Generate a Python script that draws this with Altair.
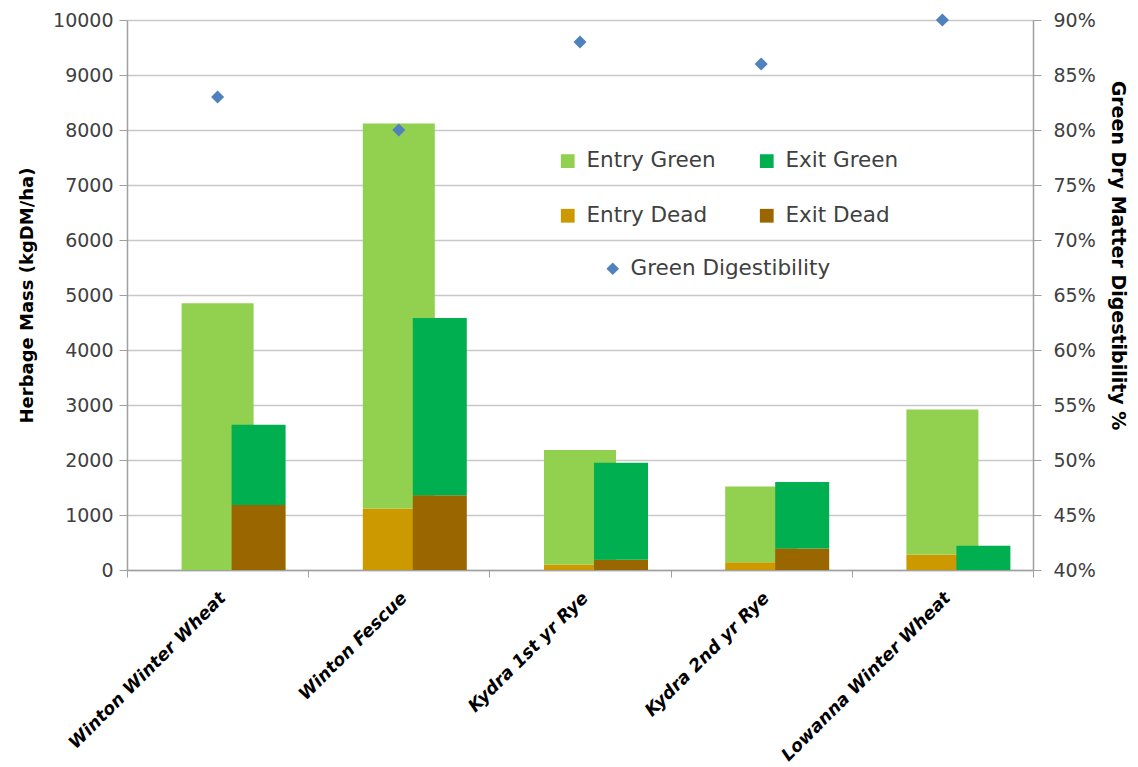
import altair as alt
import pandas as pd

# Herbage mass on entry to and exit from each paddock, split into green and dead matter
categories = [
    "Winton Winter Wheat",
    "Winton Fescue",
    "Kydra 1st yr Rye",
    "Kydra 2nd yr Rye",
    "Lowanna Winter Wheat",
]
entry_green = [4850, 7000, 2080, 1380, 2640]
entry_dead = [0, 1120, 100, 140, 280]
exit_green = [1460, 3220, 1765, 1210, 440]
exit_dead = [1180, 1360, 185, 390, 0]

# Digestibility of the green dry matter (right axis)
digestibility = [0.83, 0.80, 0.88, 0.86, 0.90]

# Legend fills column by column, so this order gives rows Green / Dead
series_names = ["Entry Green", "Entry Dead", "Exit Green", "Exit Dead"]
series_colors = ["#92D050", "#CC9900", "#00B050", "#996600"]

rows = []
for i, cat in enumerate(categories):
    rows.append(dict(category=cat, stage="Entry", series="Entry Dead", part=0, mass=entry_dead[i]))
    rows.append(dict(category=cat, stage="Entry", series="Entry Green", part=1, mass=entry_green[i]))
    rows.append(dict(category=cat, stage="Exit", series="Exit Dead", part=0, mass=exit_dead[i]))
    rows.append(dict(category=cat, stage="Exit", series="Exit Green", part=1, mass=exit_green[i]))
bars = pd.DataFrame(rows)

digest = pd.DataFrame(
    {"category": categories, "digestibility": digestibility, "label": "Green Digestibility"}
)

FONT = "DejaVu Sans"
TEXT = "#404040"
AXIS = "#A0A0A0"

x_enc = alt.X(
    "category:N",
    sort=categories,
    title=None,
    scale=alt.Scale(paddingInner=0, paddingOuter=0),
    axis=alt.Axis(
        labelAngle=-45,
        labelAlign="right",
        labelBaseline="middle",
        labelFont=FONT,
        labelFontSize=17.5,
        labelFontWeight="bold",
        labelFontStyle="italic",
        labelColor="#000000",
        labelPadding=18,
        labelOffset=5,
        labelLimit=0,
        tickBand="extent",
        tickSize=7,
        tickColor=AXIS,
        domainColor=AXIS,
        domainWidth=1.5,
        grid=False,
    ),
)

y_mass = alt.Y(
    "mass:Q",
    stack="zero",
    scale=alt.Scale(domain=[0, 10000], nice=False),
    axis=alt.Axis(
        title="Herbage Mass (kgDM/ha)",
        values=list(range(0, 10001, 1000)),
        format="d",
        labelFont=FONT,
        labelFontSize=19,
        labelColor=TEXT,
        labelPadding=6,
        tickSize=8,
        tickColor=AXIS,
        domainColor=AXIS,
        domainWidth=1.5,
        grid=True,
        gridColor="#C8C8C8",
        gridWidth=1.5,
        titleFont=FONT,
        titleFontSize=18,
        titleFontWeight="bold",
        titleColor="#000000",
        titlePadding=16,
    ),
)

color_enc = alt.Color(
    "series:N",
    scale=alt.Scale(domain=series_names, range=series_colors),
    legend=alt.Legend(
        title=None,
        orient="none",
        legendX=430,
        legendY=130,
        columns=2,
        symbolType="square",
        symbolSize=190,
        symbolStrokeWidth=0,
        labelFont=FONT,
        labelFontSize=21.5,
        labelColor=TEXT,
        labelOffset=8,
        labelLimit=0,
        rowPadding=32,
        columnPadding=40,
    ),
)

order_enc = alt.Order("part:Q", sort="ascending")

entry_bars = (
    alt.Chart(bars)
    .transform_filter(alt.datum.stage == "Entry")
    .mark_bar(size=72)
    .encode(x=x_enc, y=y_mass, color=color_enc, order=order_enc)
)

exit_bars = (
    alt.Chart(bars)
    .transform_filter(alt.datum.stage == "Exit")
    .mark_bar(size=54, xOffset=41)
    .encode(x=x_enc, y=y_mass, color=color_enc, order=order_enc)
)

points = (
    alt.Chart(digest)
    .mark_point(filled=True, size=170, opacity=1, color="#4F81BD")
    .encode(
        x=x_enc,
        y=alt.Y(
            "digestibility:Q",
            scale=alt.Scale(domain=[0.4, 0.9], nice=False),
            axis=alt.Axis(
                title="Green Dry Matter Digestibility %",
                orient="right",
                values=[0.40, 0.45, 0.50, 0.55, 0.60, 0.65, 0.70, 0.75, 0.80, 0.85, 0.90],
                format=".0%",
                labelFont=FONT,
                labelFontSize=19,
                labelColor=TEXT,
                labelPadding=12,
                tickSize=8,
                tickColor=AXIS,
                domainColor=AXIS,
                domainWidth=1.5,
                grid=False,
                titleFont=FONT,
                titleFontSize=19,
                titleFontWeight="bold",
                titleColor="#000000",
                titlePadding=12,
                titleY=235,
            ),
        ),
        shape=alt.Shape(
            "label:N",
            scale=alt.Scale(range=["diamond"]),
            legend=alt.Legend(
                title=None,
                orient="none",
                legendX=475,
                legendY=238,
                symbolSize=160,
                symbolFillColor="#4F81BD",
                symbolStrokeWidth=0,
                labelFont=FONT,
                labelFontSize=21.5,
                labelColor=TEXT,
                labelOffset=7,
                labelLimit=0,
            ),
        ),
    )
)

# Entry and exit bars share the mass axis; digestibility gets its own right axis
mass_layer = alt.layer(entry_bars, exit_bars)

chart = (
    alt.layer(mass_layer, points)
    .resolve_scale(y="independent")
    .properties(
        width=906,
        height=550,
        padding={"left": 18, "top": 11, "right": 5, "bottom": 5},
        background="#FFFFFF",
    )
    .configure_view(stroke=None)
)

chart.save("out.html", embed_options={"renderer": "svg", "actions": False})
